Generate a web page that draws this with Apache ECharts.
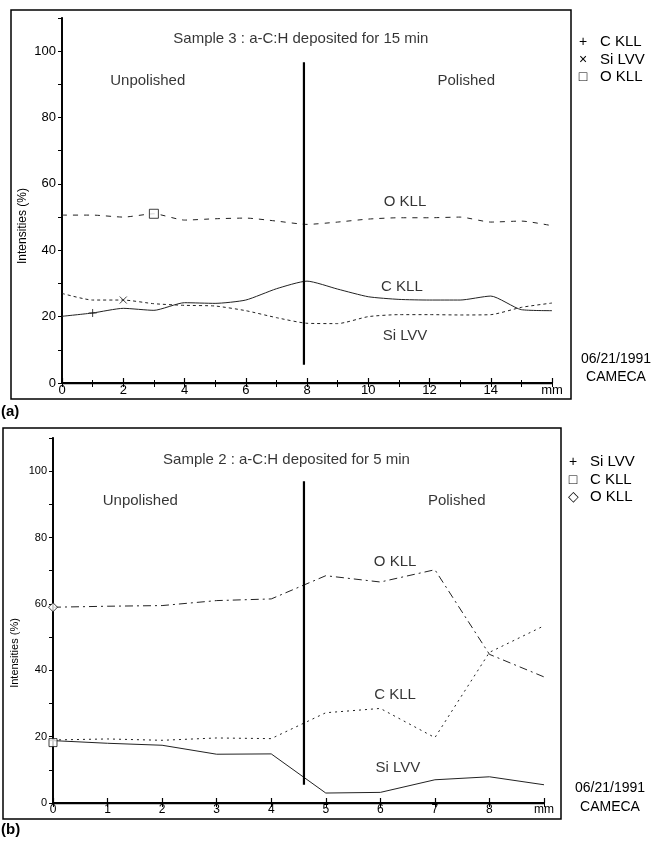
<!DOCTYPE html>
<html>
<head>
<meta charset="utf-8">
<title>Auger intensities</title>
<script src="https://cdn.jsdelivr.net/npm/echarts@6/dist/echarts.min.js"></script>
<style>
  html, body { margin: 0; padding: 0; background: #fff; }
  #chart { width: 657px; height: 844px; }
</style>
</head>
<body>
<div id="chart"></div>
<script>
// (a) Sample 3, 15 min deposition, position in mm
const xA = [0, 1, 2, 3, 4, 5, 6, 7, 8, 9, 10, 11, 12, 13, 14, 15, 16]
const cKllA = [20.1, 21.1, 22.5, 21.9, 24.2, 24.0, 25.0, 28.4, 30.7, 28.3, 26.0, 25.2, 25.0, 25.0, 26.2, 22.1, 21.8]
const siLvvA = [27.0, 25.0, 25.0, 23.9, 23.4, 23.2, 21.8, 19.7, 18.0, 17.9, 20.0, 20.6, 20.6, 20.5, 20.6, 22.8, 24.1]
const oKllA = [50.6, 50.6, 50.0, 51.0, 49.1, 49.5, 49.7, 48.8, 47.8, 48.5, 49.4, 49.8, 49.8, 50.0, 48.5, 48.8, 47.4]
const dividerA = [[7.9, 5.5], [7.9, 96.7]]

// (b) Sample 2, 5 min deposition
const xB = [0, 1, 2, 3, 4, 5, 6, 7, 8, 9]
const siLvvB = [18.8, 18.0, 17.4, 14.7, 14.8, 3.0, 3.2, 7.0, 7.9, 5.5]
const cKllB = [19.0, 19.3, 18.9, 19.6, 19.4, 27.2, 28.5, 19.7, 45.4, 53.4]
const oKllB = [59.0, 59.3, 59.5, 61.0, 61.5, 68.5, 66.6, 70.3, 44.8, 38.0]
const dividerB = [[4.6, 5.5], [4.6, 97]]

const yTicks = [0, 20, 40, 60, 80, 100]

// text placed in data coordinates
const notesA = [
  { name: 'Sample 3 : a-C:H deposited for 15 min', value: [7.8, 103.6] },
  { name: 'Unpolished', value: [2.8, 91] },
  { name: 'Polished', value: [13.2, 91] },
  { name: 'O KLL', value: [11.2, 54.5] },
  { name: 'C KLL', value: [11.1, 29] },
  { name: 'Si LVV', value: [11.2, 14.2] },
]
const notesB = [
  { name: 'Sample 2 : a-C:H deposited for 5 min', value: [4.28, 103.3] },
  { name: 'Unpolished', value: [1.6, 91] },
  { name: 'Polished', value: [7.4, 91] },
  { name: 'O KLL', value: [6.27, 72.7] },
  { name: 'C KLL', value: [6.27, 32.7] },
  { name: 'Si LVV', value: [6.32, 10.6] },
]

const FONT = '"Liberation Sans", Arial, sans-serif'
const PLUS = 'path://M0,4.5L9,4.5M4.5,0L4.5,9'
const CROSS = 'path://M0,0L8,8M8,0L0,8'

const pairs = (xs, ys) => xs.map((x, i) => [x, ys[i]])

const chart = echarts.init(document.getElementById('chart'))

const bottomAxis = (grid, max, labelSize) => ({
  gridIndex: grid,
  type: 'value',
  min: 0,
  max: max,
  interval: max === 16 ? 2 : 1,
  axisLine: { lineStyle: { color: '#000', width: 1.8 } },
  axisTick: { inside: true, length: 5, lineStyle: { color: '#000', width: 1.2 } },
  minorTick: { show: max === 16, splitNumber: 2, length: 3, lineStyle: { color: '#000' } },
  splitLine: { show: false },
  axisLabel: {
    margin: 1,
    color: '#000',
    fontFamily: FONT,
    fontSize: labelSize,
    formatter: (v) => (v === max ? 'mm' : v),
  },
})

const topAxis = (grid, max) => ({
  gridIndex: grid,
  type: 'value',
  position: 'top',
  min: 0,
  max: max,
  interval: 1,
  axisLine: { lineStyle: { color: '#000', width: 1.4 } },
  axisTick: { inside: true, length: 4, lineStyle: { color: '#000' } },
  axisLabel: { show: false },
  splitLine: { show: false },
})

const leftAxis = (grid, labelSize) => ({
  gridIndex: grid,
  type: 'value',
  min: 0,
  max: 110,
  interval: 20,
  axisLine: { show: true, lineStyle: { color: '#000', width: 1.8 } },
  axisTick: { show: true, length: 4, lineStyle: { color: '#000' } },
  minorTick: { show: true, splitNumber: 2, length: 3, lineStyle: { color: '#000' } },
  splitLine: { show: false },
  axisLabel: {
    margin: 6,
    color: '#000',
    fontFamily: FONT,
    fontSize: labelSize,
    formatter: (v) => (yTicks.includes(v) ? v : ''),
  },
})

const rightAxis = (grid) => ({
  gridIndex: grid,
  type: 'value',
  position: 'right',
  min: 0,
  max: 110,
  interval: 10,
  axisLine: { show: true, lineStyle: { color: '#000', width: 1.6 } },
  axisTick: { show: true, inside: true, length: 4, lineStyle: { color: '#000' } },
  axisLabel: { show: false },
  splitLine: { show: false },
})

const line = (name, axis, data, type, smooth) => ({
  name: name,
  type: 'line',
  xAxisIndex: axis,
  yAxisIndex: axis,
  data: data,
  symbol: 'none',
  smooth: smooth,
  silent: true,
  lineStyle: { color: '#222', width: 1, type: type },
  z: 3,
})

const marker = (name, axis, point, symbol, size) => ({
  name: name,
  type: 'scatter',
  xAxisIndex: axis,
  yAxisIndex: axis,
  data: [point],
  symbol: symbol,
  symbolSize: size,
  silent: true,
  itemStyle: {
    color: symbol.startsWith('path') ? 'transparent' : '#fff',
    borderColor: '#111',
    borderWidth: 1,
  },
  z: 5,
})

const divider = (axis, data) => ({
  type: 'line',
  xAxisIndex: axis,
  yAxisIndex: axis,
  data: data,
  symbol: 'none',
  silent: true,
  lineStyle: { color: '#000', width: 2.2 },
  z: 4,
})

const notes = (axis, data) => ({
  type: 'scatter',
  xAxisIndex: axis,
  yAxisIndex: axis,
  data: data,
  symbolSize: 0,
  silent: true,
  label: {
    show: true,
    position: 'inside',
    formatter: '{b}',
    color: '#000',
    fontFamily: FONT,
    fontSize: 15,
  },
})

const legendText = (x, y, sym, text) => [
  { type: 'text', x: x, y: y, style: { text: sym, font: '14px ' + FONT, fill: '#000', align: 'center', verticalAlign: 'middle' } },
  { type: 'text', x: x + 17, y: y, style: { text: text, font: '15px ' + FONT, fill: '#000', align: 'left', verticalAlign: 'middle' } },
]

const caption = (x, y, text, font) => ({
  type: 'text', x: x, y: y,
  style: { text: text, font: font, fill: '#000', align: 'center', verticalAlign: 'middle' },
})

chart.setOption({
  animation: false,
  backgroundColor: '#fff',
  grid: [
    { left: 62, top: 18, width: 490, height: 365, show: false },
    { left: 53, top: 438, width: 491, height: 365, show: false },
  ],
  xAxis: [bottomAxis(0, 16, 13), bottomAxis(1, 9, 12), topAxis(0, 16), topAxis(1, 9)],
  yAxis: [leftAxis(0, 13), leftAxis(1, 11), rightAxis(0), rightAxis(1)],
  series: [
    line('C KLL', 0, pairs(xA, cKllA), 'solid', 0.2),
    line('Si LVV', 0, pairs(xA, siLvvA), [3, 3], 0.2),
    line('O KLL', 0, pairs(xA, oKllA), [5, 6], 0.2),
    marker('C KLL', 0, [xA[1], cKllA[1]], PLUS, 8),
    marker('Si LVV', 0, [xA[2], siLvvA[2]], CROSS, 7),
    marker('O KLL', 0, [xA[3], oKllA[3]], 'rect', 9),
    divider(0, dividerA),
    notes(0, notesA),

    line('Si LVV', 1, pairs(xB, siLvvB), 'solid', false),
    line('C KLL', 1, pairs(xB, cKllB), [2, 4], false),
    line('O KLL', 1, pairs(xB, oKllB), [8, 4, 2, 4], false),
    marker('Si LVV', 1, [xB[0], siLvvB[0]], PLUS, 7),
    marker('C KLL', 1, [xB[0], cKllB[0] - 0.8], 'rect', 8),
    marker('O KLL', 1, [xB[0], oKllB[0]], 'diamond', 9),
    divider(1, dividerB),
    notes(1, notesB),
  ],
  graphic: [
    { type: 'rect', shape: { x: 11, y: 10, width: 560, height: 389 }, style: { fill: 'none', stroke: '#000', lineWidth: 1.5 }, silent: true },
    { type: 'rect', shape: { x: 3, y: 428, width: 558, height: 391 }, style: { fill: 'none', stroke: '#000', lineWidth: 1.5 }, silent: true },
    { type: 'text', x: 23, y: 226, rotation: Math.PI / 2, style: { text: 'Intensities (%)', font: '12px ' + FONT, fill: '#000', align: 'center', verticalAlign: 'middle' } },
    { type: 'text', x: 15, y: 653, rotation: Math.PI / 2, style: { text: 'Intensities (%)', font: '11px ' + FONT, fill: '#000', align: 'center', verticalAlign: 'middle' } },
    ...legendText(583, 42, '+', 'C KLL'),
    ...legendText(583, 60, '×', 'Si LVV'),
    ...legendText(583, 77, '□', 'O KLL'),
    ...legendText(573, 462, '+', 'Si LVV'),
    ...legendText(573, 480, '□', 'C KLL'),
    ...legendText(573, 497, '◇', 'O KLL'),
    caption(616, 359, '06/21/1991', '14px ' + FONT),
    caption(616, 377, 'CAMECA', '14px ' + FONT),
    caption(610, 788, '06/21/1991', '14px ' + FONT),
    caption(610, 807, 'CAMECA', '14px ' + FONT),
    { type: 'text', x: 1, y: 412, style: { text: '(a)', font: 'bold 15px ' + FONT, fill: '#000', align: 'left', verticalAlign: 'middle' } },
    { type: 'text', x: 1, y: 830, style: { text: '(b)', font: 'bold 15px ' + FONT, fill: '#000', align: 'left', verticalAlign: 'middle' } },
  ],
})
</script>
</body>
</html>
